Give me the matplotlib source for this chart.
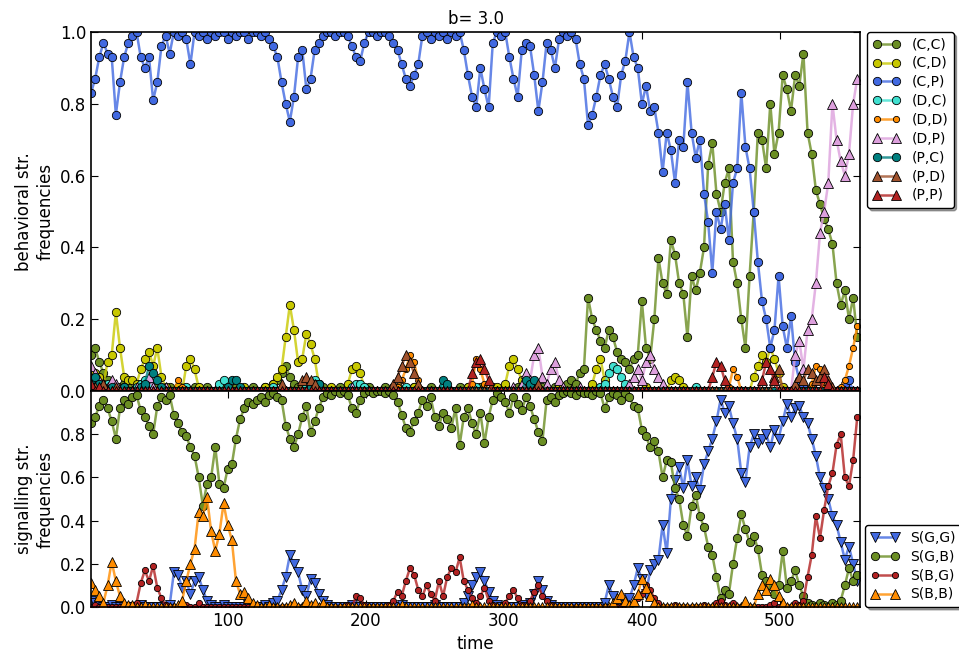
import numpy as np
import matplotlib.pyplot as plt
from matplotlib.colors import to_rgba
from matplotlib.ticker import FormatStrFormatter

# time steps (sampled every 3 steps)
t = np.arange(1, 557, 3)

# behavioral strategy frequencies
cc = [0.10, 0.12, 0.08, 0.05, 0.03, 0.01, 0.00, 0.01, 0.02, 0.01,
      0.00, 0.01, 0.02, 0.00, 0.01, 0.00, 0.01, 0.00, 0.00, 0.01,
      0.00, 0.00, 0.01, 0.00, 0.00, 0.01, 0.00, 0.00, 0.01, 0.00,
      0.00, 0.01, 0.00, 0.00, 0.00, 0.01, 0.00, 0.00, 0.00, 0.01,
      0.00, 0.00, 0.01, 0.00, 0.02, 0.03, 0.05, 0.07, 0.04, 0.02,
      0.01, 0.00, 0.00, 0.01, 0.00, 0.00, 0.01, 0.00, 0.00, 0.00,
      0.01, 0.00, 0.00, 0.01, 0.00, 0.00, 0.00, 0.01, 0.00, 0.00,
      0.00, 0.01, 0.00, 0.00, 0.01, 0.00, 0.00, 0.00, 0.01, 0.00,
      0.00, 0.00, 0.01, 0.00, 0.00, 0.01, 0.00, 0.00, 0.00, 0.01,
      0.00, 0.01, 0.00, 0.00, 0.01, 0.00, 0.00, 0.01, 0.00, 0.00,
      0.01, 0.00, 0.00, 0.01, 0.00, 0.00, 0.01, 0.00, 0.00, 0.01,
      0.00, 0.00, 0.01, 0.00, 0.01, 0.02, 0.03, 0.02, 0.05, 0.06,
      0.26, 0.20, 0.17, 0.14, 0.12, 0.17, 0.15, 0.11, 0.09, 0.08,
      0.06, 0.09, 0.10, 0.25, 0.12, 0.09, 0.20, 0.37, 0.30, 0.27,
      0.42, 0.38, 0.30, 0.27, 0.15, 0.32, 0.28, 0.33, 0.40, 0.63,
      0.69, 0.55, 0.50, 0.58, 0.62, 0.36, 0.30, 0.20, 0.12, 0.32,
      0.50, 0.72, 0.70, 0.62, 0.80, 0.66, 0.72, 0.88, 0.84, 0.78,
      0.88, 0.85, 0.94, 0.72, 0.66, 0.56, 0.52, 0.48, 0.45, 0.41,
      0.30, 0.24, 0.28, 0.20, 0.26, 0.15]
cd = [0.03, 0.05, 0.04, 0.02, 0.08, 0.10, 0.22, 0.12, 0.04, 0.03,
      0.03, 0.02, 0.06, 0.09, 0.11, 0.07, 0.12, 0.04, 0.01, 0.00,
      0.00, 0.01, 0.00, 0.07, 0.09, 0.06, 0.01, 0.00, 0.00, 0.00,
      0.00, 0.00, 0.01, 0.00, 0.00, 0.00, 0.00, 0.01, 0.00, 0.00,
      0.00, 0.00, 0.01, 0.00, 0.02, 0.04, 0.06, 0.15, 0.24, 0.17,
      0.08, 0.09, 0.16, 0.13, 0.09, 0.02, 0.00, 0.00, 0.01, 0.00,
      0.00, 0.00, 0.02, 0.06, 0.07, 0.05, 0.01, 0.00, 0.00, 0.00,
      0.00, 0.00, 0.00, 0.01, 0.00, 0.00, 0.00, 0.00, 0.01, 0.00,
      0.00, 0.00, 0.00, 0.00, 0.00, 0.01, 0.00, 0.00, 0.00, 0.00,
      0.00, 0.01, 0.00, 0.00, 0.00, 0.00, 0.00, 0.00, 0.01, 0.00,
      0.02, 0.07, 0.09, 0.06, 0.03, 0.00, 0.01, 0.00, 0.00, 0.00,
      0.00, 0.00, 0.00, 0.01, 0.00, 0.00, 0.00, 0.00, 0.00, 0.00,
      0.00, 0.02, 0.06, 0.09, 0.03, 0.00, 0.00, 0.00, 0.00, 0.00,
      0.00, 0.00, 0.00, 0.00, 0.01, 0.00, 0.00, 0.00, 0.00, 0.00,
      0.03, 0.04, 0.03, 0.01, 0.00, 0.00, 0.00, 0.00, 0.00, 0.00,
      0.00, 0.00, 0.00, 0.00, 0.00, 0.00, 0.00, 0.00, 0.00, 0.00,
      0.04, 0.07, 0.10, 0.08, 0.12, 0.09, 0.05, 0.01, 0.00, 0.00,
      0.00, 0.00, 0.00, 0.00, 0.00, 0.00, 0.00, 0.00, 0.00, 0.00,
      0.00, 0.00, 0.00, 0.00, 0.00, 0.00]
cp = [0.83, 0.87, 0.93, 0.97, 0.94, 0.93, 0.77, 0.86, 0.93, 0.97,
      0.99, 1.00, 0.93, 0.90, 0.93, 0.81, 0.86, 0.96, 0.99, 0.94,
      1.00, 0.99, 1.00, 0.98, 0.91, 1.00, 0.99, 1.00, 0.98, 1.00,
      0.99, 1.00, 1.00, 0.98, 1.00, 0.99, 1.00, 1.00, 0.98, 1.00,
      1.00, 0.99, 1.00, 0.98, 0.96, 0.93, 0.86, 0.80, 0.75, 0.82,
      0.93, 0.95, 0.84, 0.87, 0.95, 0.97, 0.99, 1.00, 1.00, 0.99,
      1.00, 1.00, 0.99, 0.96, 0.93, 0.92, 0.97, 1.00, 1.00, 0.99,
      1.00, 1.00, 0.99, 0.97, 0.95, 0.91, 0.87, 0.85, 0.88, 0.91,
      0.99, 1.00, 0.98, 1.00, 0.99, 1.00, 0.98, 1.00, 0.99, 1.00,
      0.95, 0.88, 0.82, 0.79, 0.90, 0.84, 0.79, 0.97, 1.00, 0.99,
      1.00, 0.93, 0.87, 0.82, 0.95, 0.97, 0.96, 0.88, 0.78, 0.86,
      0.97, 0.95, 0.90, 0.98, 1.00, 0.99, 1.00, 0.98, 0.91, 0.87,
      0.74, 0.77, 0.82, 0.88, 0.91, 0.87, 0.82, 0.79, 0.88, 0.92,
      1.00, 0.93, 0.90, 0.80, 0.85, 0.78, 0.79, 0.72, 0.61, 0.72,
      0.67, 0.58, 0.70, 0.68, 0.86, 0.72, 0.65, 0.70, 0.55, 0.47,
      0.33, 0.50, 0.45, 0.52, 0.42, 0.58, 0.62, 0.83, 0.68, 0.62,
      0.50, 0.36, 0.25, 0.20, 0.12, 0.17, 0.32, 0.18, 0.12, 0.21,
      0.08, 0.03, 0.01, 0.00, 0.01, 0.00, 0.00, 0.01, 0.00, 0.00,
      0.00, 0.00, 0.02, 0.03, 0.00, 0.00]
dc = [0.02, 0.01, 0.00, 0.01, 0.02, 0.01, 0.00, 0.00, 0.01, 0.00,
      0.00, 0.01, 0.02, 0.03, 0.01, 0.00, 0.00, 0.00, 0.00, 0.00,
      0.00, 0.00, 0.00, 0.01, 0.00, 0.00, 0.00, 0.00, 0.00, 0.00,
      0.00, 0.02, 0.03, 0.01, 0.00, 0.00, 0.00, 0.00, 0.00, 0.00,
      0.00, 0.00, 0.00, 0.00, 0.01, 0.00, 0.00, 0.00, 0.00, 0.00,
      0.00, 0.00, 0.01, 0.02, 0.03, 0.02, 0.00, 0.00, 0.00, 0.00,
      0.00, 0.00, 0.00, 0.01, 0.02, 0.02, 0.01, 0.00, 0.00, 0.00,
      0.00, 0.00, 0.00, 0.00, 0.00, 0.00, 0.01, 0.00, 0.00, 0.00,
      0.00, 0.00, 0.00, 0.00, 0.00, 0.01, 0.00, 0.00, 0.00, 0.00,
      0.00, 0.00, 0.00, 0.01, 0.00, 0.00, 0.00, 0.00, 0.00, 0.00,
      0.00, 0.00, 0.00, 0.00, 0.01, 0.01, 0.00, 0.00, 0.00, 0.00,
      0.00, 0.00, 0.00, 0.00, 0.00, 0.00, 0.00, 0.00, 0.00, 0.00,
      0.00, 0.00, 0.00, 0.01, 0.02, 0.05, 0.07, 0.06, 0.04, 0.02,
      0.00, 0.00, 0.00, 0.00, 0.00, 0.00, 0.00, 0.00, 0.00, 0.00,
      0.00, 0.00, 0.00, 0.00, 0.00, 0.00, 0.01, 0.00, 0.00, 0.00,
      0.00, 0.00, 0.00, 0.00, 0.00, 0.00, 0.00, 0.00, 0.00, 0.00,
      0.00, 0.00, 0.00, 0.00, 0.00, 0.00, 0.00, 0.00, 0.00, 0.00,
      0.00, 0.00, 0.00, 0.00, 0.00, 0.00, 0.00, 0.00, 0.00, 0.00,
      0.00, 0.00, 0.00, 0.00, 0.00, 0.00]
dd = [0.00, 0.00, 0.00, 0.00, 0.00, 0.00, 0.00, 0.00, 0.00, 0.00,
      0.00, 0.00, 0.00, 0.00, 0.00, 0.00, 0.00, 0.00, 0.00, 0.00,
      0.00, 0.03, 0.01, 0.00, 0.00, 0.00, 0.00, 0.00, 0.00, 0.00,
      0.00, 0.00, 0.00, 0.00, 0.00, 0.00, 0.00, 0.00, 0.00, 0.00,
      0.00, 0.00, 0.00, 0.00, 0.00, 0.00, 0.00, 0.00, 0.00, 0.00,
      0.00, 0.00, 0.00, 0.00, 0.00, 0.00, 0.00, 0.00, 0.00, 0.00,
      0.00, 0.00, 0.00, 0.00, 0.00, 0.00, 0.00, 0.00, 0.00, 0.00,
      0.00, 0.00, 0.00, 0.00, 0.01, 0.03, 0.06, 0.10, 0.08, 0.03,
      0.00, 0.00, 0.00, 0.00, 0.00, 0.00, 0.00, 0.00, 0.00, 0.00,
      0.00, 0.00, 0.02, 0.09, 0.06, 0.02, 0.00, 0.00, 0.00, 0.00,
      0.00, 0.00, 0.00, 0.00, 0.00, 0.00, 0.00, 0.00, 0.00, 0.00,
      0.00, 0.00, 0.00, 0.00, 0.00, 0.00, 0.00, 0.00, 0.00, 0.00,
      0.00, 0.00, 0.00, 0.00, 0.00, 0.00, 0.00, 0.00, 0.00, 0.00,
      0.00, 0.00, 0.00, 0.00, 0.00, 0.00, 0.00, 0.00, 0.00, 0.00,
      0.00, 0.00, 0.00, 0.00, 0.00, 0.00, 0.00, 0.00, 0.00, 0.00,
      0.00, 0.00, 0.00, 0.00, 0.01, 0.06, 0.04, 0.00, 0.00, 0.00,
      0.00, 0.00, 0.00, 0.00, 0.00, 0.00, 0.00, 0.00, 0.00, 0.00,
      0.00, 0.00, 0.00, 0.00, 0.02, 0.07, 0.06, 0.02, 0.00, 0.00,
      0.00, 0.01, 0.03, 0.07, 0.12, 0.18]
dp = [0.07, 0.05, 0.03, 0.02, 0.01, 0.03, 0.02, 0.00, 0.01, 0.00,
      0.00, 0.01, 0.00, 0.02, 0.04, 0.01, 0.00, 0.00, 0.01, 0.00,
      0.00, 0.00, 0.00, 0.00, 0.00, 0.00, 0.00, 0.00, 0.00, 0.00,
      0.00, 0.00, 0.00, 0.00, 0.00, 0.00, 0.00, 0.00, 0.00, 0.00,
      0.00, 0.00, 0.00, 0.00, 0.00, 0.00, 0.00, 0.00, 0.00, 0.00,
      0.00, 0.00, 0.00, 0.00, 0.00, 0.00, 0.00, 0.00, 0.00, 0.00,
      0.00, 0.00, 0.00, 0.01, 0.00, 0.00, 0.00, 0.00, 0.00, 0.00,
      0.00, 0.00, 0.00, 0.00, 0.00, 0.00, 0.00, 0.00, 0.00, 0.00,
      0.00, 0.00, 0.00, 0.00, 0.00, 0.00, 0.00, 0.00, 0.00, 0.00,
      0.00, 0.00, 0.00, 0.00, 0.00, 0.00, 0.00, 0.00, 0.00, 0.00,
      0.00, 0.00, 0.01, 0.00, 0.02, 0.05, 0.03, 0.10, 0.12, 0.04,
      0.02, 0.06, 0.08, 0.03, 0.01, 0.00, 0.00, 0.00, 0.01, 0.00,
      0.00, 0.00, 0.00, 0.00, 0.00, 0.00, 0.00, 0.00, 0.00, 0.00,
      0.02, 0.04, 0.06, 0.03, 0.08, 0.10, 0.06, 0.04, 0.02, 0.00,
      0.00, 0.00, 0.00, 0.00, 0.00, 0.00, 0.00, 0.00, 0.00, 0.00,
      0.00, 0.00, 0.00, 0.00, 0.00, 0.00, 0.00, 0.00, 0.00, 0.00,
      0.00, 0.00, 0.00, 0.00, 0.00, 0.00, 0.00, 0.00, 0.00, 0.00,
      0.10, 0.14, 0.06, 0.17, 0.20, 0.30, 0.44, 0.50, 0.58, 0.80,
      0.70, 0.64, 0.60, 0.66, 0.80, 0.87]
pc = [0.03, 0.04, 0.02, 0.01, 0.00, 0.01, 0.00, 0.00, 0.01, 0.00,
      0.00, 0.00, 0.01, 0.02, 0.07, 0.05, 0.03, 0.01, 0.00, 0.00,
      0.00, 0.00, 0.00, 0.00, 0.00, 0.00, 0.00, 0.00, 0.00, 0.00,
      0.00, 0.00, 0.00, 0.01, 0.03, 0.03, 0.01, 0.00, 0.00, 0.00,
      0.00, 0.00, 0.00, 0.00, 0.00, 0.00, 0.00, 0.00, 0.00, 0.00,
      0.00, 0.00, 0.00, 0.01, 0.02, 0.02, 0.00, 0.00, 0.00, 0.00,
      0.00, 0.00, 0.00, 0.00, 0.00, 0.00, 0.00, 0.00, 0.00, 0.00,
      0.00, 0.00, 0.00, 0.00, 0.00, 0.00, 0.00, 0.00, 0.00, 0.00,
      0.00, 0.00, 0.00, 0.00, 0.00, 0.03, 0.02, 0.00, 0.00, 0.00,
      0.00, 0.00, 0.00, 0.00, 0.00, 0.00, 0.00, 0.00, 0.00, 0.00,
      0.00, 0.00, 0.00, 0.00, 0.00, 0.03, 0.02, 0.03, 0.00, 0.00,
      0.00, 0.00, 0.00, 0.00, 0.00, 0.00, 0.00, 0.00, 0.00, 0.00,
      0.00, 0.00, 0.00, 0.00, 0.00, 0.00, 0.00, 0.00, 0.00, 0.00,
      0.00, 0.00, 0.00, 0.00, 0.00, 0.00, 0.00, 0.00, 0.00, 0.00,
      0.00, 0.00, 0.00, 0.00, 0.00, 0.00, 0.00, 0.00, 0.00, 0.00,
      0.00, 0.00, 0.00, 0.00, 0.00, 0.00, 0.00, 0.00, 0.00, 0.00,
      0.00, 0.00, 0.00, 0.00, 0.00, 0.00, 0.00, 0.00, 0.00, 0.00,
      0.00, 0.00, 0.00, 0.00, 0.00, 0.00, 0.00, 0.00, 0.00, 0.00,
      0.00, 0.00, 0.00, 0.00, 0.00, 0.00]
pd_ = [0.00, 0.01, 0.00, 0.02, 0.00, 0.00, 0.01, 0.00, 0.00, 0.00,
       0.00, 0.00, 0.00, 0.00, 0.00, 0.00, 0.00, 0.00, 0.00, 0.00,
       0.00, 0.00, 0.00, 0.00, 0.00, 0.00, 0.00, 0.00, 0.00, 0.00,
       0.00, 0.00, 0.00, 0.00, 0.00, 0.00, 0.00, 0.00, 0.00, 0.00,
       0.00, 0.00, 0.00, 0.00, 0.00, 0.00, 0.02, 0.00, 0.00, 0.00,
       0.00, 0.03, 0.04, 0.03, 0.02, 0.00, 0.00, 0.00, 0.00, 0.00,
       0.00, 0.00, 0.00, 0.00, 0.00, 0.00, 0.00, 0.00, 0.00, 0.00,
       0.00, 0.00, 0.00, 0.02, 0.04, 0.07, 0.10, 0.08, 0.05, 0.02,
       0.00, 0.00, 0.00, 0.00, 0.00, 0.00, 0.00, 0.00, 0.00, 0.00,
       0.00, 0.00, 0.00, 0.00, 0.00, 0.00, 0.00, 0.00, 0.00, 0.00,
       0.00, 0.00, 0.00, 0.00, 0.00, 0.00, 0.00, 0.00, 0.02, 0.00,
       0.00, 0.00, 0.00, 0.00, 0.00, 0.00, 0.00, 0.00, 0.00, 0.00,
       0.00, 0.00, 0.00, 0.00, 0.00, 0.00, 0.00, 0.00, 0.00, 0.00,
       0.00, 0.00, 0.00, 0.00, 0.00, 0.00, 0.00, 0.00, 0.00, 0.00,
       0.00, 0.00, 0.00, 0.00, 0.00, 0.00, 0.00, 0.00, 0.00, 0.00,
       0.00, 0.00, 0.00, 0.00, 0.00, 0.00, 0.00, 0.00, 0.00, 0.00,
       0.00, 0.00, 0.00, 0.00, 0.00, 0.04, 0.06, 0.00, 0.00, 0.00,
       0.02, 0.04, 0.03, 0.06, 0.05, 0.03, 0.04, 0.06, 0.03, 0.01,
       0.00, 0.00, 0.00, 0.00, 0.00, 0.00]
pp = [0.02, 0.00, 0.01, 0.00, 0.00, 0.00, 0.00, 0.00, 0.00, 0.00,
      0.00, 0.00, 0.00, 0.00, 0.00, 0.00, 0.00, 0.00, 0.00, 0.00,
      0.00, 0.00, 0.00, 0.00, 0.00, 0.00, 0.00, 0.00, 0.00, 0.00,
      0.00, 0.00, 0.00, 0.00, 0.00, 0.00, 0.00, 0.00, 0.00, 0.00,
      0.00, 0.00, 0.00, 0.00, 0.00, 0.00, 0.00, 0.00, 0.00, 0.00,
      0.00, 0.00, 0.00, 0.00, 0.00, 0.00, 0.00, 0.00, 0.00, 0.00,
      0.00, 0.00, 0.00, 0.00, 0.00, 0.00, 0.00, 0.00, 0.00, 0.00,
      0.00, 0.00, 0.00, 0.00, 0.00, 0.00, 0.00, 0.00, 0.00, 0.00,
      0.00, 0.00, 0.00, 0.00, 0.00, 0.00, 0.00, 0.00, 0.00, 0.00,
      0.00, 0.00, 0.05, 0.08, 0.09, 0.06, 0.03, 0.00, 0.00, 0.00,
      0.00, 0.00, 0.00, 0.00, 0.00, 0.00, 0.00, 0.00, 0.00, 0.00,
      0.00, 0.00, 0.00, 0.00, 0.00, 0.00, 0.00, 0.00, 0.00, 0.00,
      0.00, 0.00, 0.00, 0.00, 0.00, 0.00, 0.00, 0.00, 0.00, 0.00,
      0.00, 0.00, 0.00, 0.00, 0.00, 0.00, 0.00, 0.00, 0.00, 0.00,
      0.00, 0.00, 0.00, 0.00, 0.00, 0.00, 0.00, 0.00, 0.00, 0.00,
      0.04, 0.08, 0.07, 0.03, 0.00, 0.00, 0.00, 0.00, 0.00, 0.00,
      0.00, 0.00, 0.03, 0.08, 0.06, 0.03, 0.00, 0.00, 0.00, 0.00,
      0.00, 0.00, 0.00, 0.00, 0.00, 0.00, 0.00, 0.04, 0.02, 0.00,
      0.00, 0.00, 0.00, 0.00, 0.00, 0.00]

# signalling strategy frequencies
sgg = [0.03, 0.02, 0.01, 0.00, 0.00, 0.01, 0.00, 0.00, 0.00, 0.00,
       0.00, 0.00, 0.01, 0.00, 0.00, 0.00, 0.00, 0.00, 0.00, 0.01,
       0.16, 0.15, 0.09, 0.12, 0.06, 0.12, 0.14, 0.08, 0.03, 0.01,
       0.00, 0.00, 0.01, 0.00, 0.00, 0.00, 0.00, 0.00, 0.01, 0.00,
       0.00, 0.00, 0.01, 0.00, 0.02, 0.03, 0.08, 0.14, 0.24, 0.20,
       0.16, 0.08, 0.05, 0.13, 0.11, 0.06, 0.03, 0.01, 0.00, 0.00,
       0.00, 0.00, 0.00, 0.01, 0.00, 0.00, 0.00, 0.00, 0.00, 0.00,
       0.00, 0.00, 0.00, 0.00, 0.00, 0.01, 0.00, 0.00, 0.00, 0.00,
       0.00, 0.00, 0.00, 0.01, 0.00, 0.00, 0.00, 0.00, 0.00, 0.00,
       0.02, 0.05, 0.10, 0.14, 0.16, 0.12, 0.07, 0.03, 0.01, 0.00,
       0.00, 0.00, 0.00, 0.00, 0.01, 0.00, 0.02, 0.06, 0.12, 0.08,
       0.03, 0.01, 0.00, 0.00, 0.00, 0.00, 0.00, 0.00, 0.00, 0.00,
       0.00, 0.00, 0.00, 0.00, 0.02, 0.10, 0.05, 0.01, 0.00, 0.01,
       0.04, 0.10, 0.18, 0.13, 0.06, 0.17, 0.20, 0.22, 0.38, 0.25,
       0.50, 0.59, 0.65, 0.55, 0.68, 0.56, 0.60, 0.54, 0.66, 0.72,
       0.78, 0.86, 0.96, 0.90, 0.93, 0.85, 0.78, 0.62, 0.58, 0.74,
       0.80, 0.76, 0.78, 0.80, 0.74, 0.82, 0.78, 0.86, 0.94, 0.88,
       0.92, 0.93, 0.88, 0.85, 0.78, 0.70, 0.60, 0.55, 0.50, 0.42,
       0.38, 0.30, 0.22, 0.28, 0.20, 0.12]
sgb = [0.85, 0.88, 0.93, 0.96, 0.92, 0.86, 0.78, 0.92, 0.96, 0.94,
       0.97, 0.98, 0.91, 0.88, 0.84, 0.80, 0.93, 0.97, 0.96, 0.98,
       0.89, 0.85, 0.81, 0.79, 0.74, 0.70, 0.60, 0.47, 0.57, 0.60,
       0.74, 0.57, 0.55, 0.64, 0.66, 0.78, 0.87, 0.92, 0.95, 0.94,
       0.96, 0.97, 0.95, 0.98, 0.99, 0.97, 0.96, 0.84, 0.78, 0.74,
       0.80, 0.88, 0.93, 0.81, 0.86, 0.92, 0.97, 0.99, 0.98, 1.00,
       0.99, 1.00, 0.98, 0.92, 0.90, 0.96, 0.99, 1.00, 0.99, 1.00,
       1.00, 0.99, 1.00, 0.98, 0.95, 0.89, 0.83, 0.81, 0.86, 0.90,
       0.96, 0.93, 0.97, 0.88, 0.84, 0.90, 0.87, 0.83, 0.92, 0.75,
       0.88, 0.92, 0.85, 0.80, 0.90, 0.76, 0.88, 0.96, 0.99, 0.97,
       0.95, 0.90, 0.97, 0.94, 0.91, 0.97, 0.93, 0.87, 0.81, 0.77,
       0.96, 0.97, 0.95, 0.98, 0.99, 1.00, 0.99, 0.98, 1.00, 0.99,
       0.99, 0.98, 1.00, 0.99, 0.92, 0.97, 0.99, 0.98, 0.96, 0.99,
       0.97, 0.93, 0.92, 0.82, 0.79, 0.74, 0.77, 0.72, 0.60, 0.68,
       0.67, 0.55, 0.50, 0.38, 0.33, 0.47, 0.52, 0.42, 0.37, 0.28,
       0.24, 0.14, 0.04, 0.08, 0.06, 0.20, 0.32, 0.43, 0.36, 0.30,
       0.33, 0.27, 0.15, 0.12, 0.10, 0.06, 0.10, 0.26, 0.09, 0.12,
       0.17, 0.10, 0.05, 0.02, 0.01, 0.00, 0.02, 0.01, 0.00, 0.02,
       0.01, 0.03, 0.10, 0.18, 0.12, 0.15]
sbg = [0.00, 0.01, 0.00, 0.00, 0.00, 0.00, 0.00, 0.00, 0.00, 0.00,
       0.00, 0.02, 0.11, 0.17, 0.12, 0.19, 0.09, 0.04, 0.01, 0.00,
       0.00, 0.00, 0.00, 0.01, 0.00, 0.00, 0.02, 0.00, 0.00, 0.00,
       0.00, 0.00, 0.00, 0.00, 0.00, 0.00, 0.00, 0.00, 0.00, 0.00,
       0.00, 0.00, 0.00, 0.00, 0.00, 0.00, 0.00, 0.00, 0.00, 0.00,
       0.00, 0.00, 0.00, 0.00, 0.00, 0.00, 0.00, 0.00, 0.00, 0.00,
       0.00, 0.00, 0.01, 0.00, 0.05, 0.04, 0.01, 0.00, 0.00, 0.00,
       0.00, 0.00, 0.01, 0.03, 0.07, 0.05, 0.12, 0.18, 0.15, 0.08,
       0.05, 0.10, 0.06, 0.03, 0.12, 0.05, 0.14, 0.18, 0.16, 0.23,
       0.12, 0.08, 0.04, 0.02, 0.05, 0.09, 0.03, 0.01, 0.00, 0.00,
       0.02, 0.05, 0.08, 0.04, 0.01, 0.00, 0.03, 0.07, 0.10, 0.05,
       0.03, 0.01, 0.00, 0.00, 0.00, 0.00, 0.00, 0.00, 0.00, 0.00,
       0.00, 0.00, 0.00, 0.00, 0.00, 0.00, 0.00, 0.00, 0.00, 0.00,
       0.00, 0.02, 0.04, 0.06, 0.10, 0.08, 0.04, 0.02, 0.00, 0.00,
       0.00, 0.01, 0.00, 0.00, 0.00, 0.00, 0.00, 0.00, 0.01, 0.00,
       0.00, 0.02, 0.03, 0.01, 0.00, 0.02, 0.00, 0.00, 0.00, 0.00,
       0.00, 0.00, 0.00, 0.00, 0.01, 0.02, 0.00, 0.00, 0.00, 0.00,
       0.02, 0.01, 0.03, 0.14, 0.24, 0.42, 0.32, 0.45, 0.56, 0.62,
       0.75, 0.80, 0.60, 0.56, 0.68, 0.88]
sbb = [0.11, 0.08, 0.05, 0.02, 0.10, 0.21, 0.12, 0.05, 0.02, 0.01,
       0.01, 0.00, 0.00, 0.01, 0.00, 0.00, 0.00, 0.00, 0.00, 0.00,
       0.00, 0.01, 0.03, 0.12, 0.20, 0.27, 0.44, 0.42, 0.51, 0.35,
       0.26, 0.34, 0.48, 0.38, 0.31, 0.12, 0.06, 0.07, 0.04, 0.02,
       0.01, 0.00, 0.00, 0.01, 0.00, 0.00, 0.00, 0.00, 0.01, 0.02,
       0.00, 0.00, 0.03, 0.01, 0.02, 0.00, 0.02, 0.00, 0.00, 0.00,
       0.00, 0.00, 0.00, 0.00, 0.00, 0.00, 0.00, 0.00, 0.00, 0.00,
       0.00, 0.00, 0.00, 0.00, 0.00, 0.01, 0.00, 0.00, 0.00, 0.00,
       0.00, 0.00, 0.00, 0.00, 0.00, 0.00, 0.00, 0.00, 0.00, 0.00,
       0.00, 0.00, 0.01, 0.00, 0.00, 0.00, 0.00, 0.00, 0.00, 0.00,
       0.00, 0.00, 0.00, 0.00, 0.00, 0.00, 0.00, 0.00, 0.00, 0.00,
       0.00, 0.00, 0.00, 0.00, 0.00, 0.00, 0.00, 0.00, 0.00, 0.00,
       0.00, 0.00, 0.00, 0.00, 0.00, 0.00, 0.02, 0.04, 0.06, 0.03,
       0.01, 0.03, 0.06, 0.13, 0.09, 0.05, 0.02, 0.00, 0.00, 0.00,
       0.00, 0.00, 0.00, 0.00, 0.00, 0.00, 0.00, 0.00, 0.00, 0.00,
       0.00, 0.00, 0.00, 0.00, 0.00, 0.00, 0.00, 0.00, 0.03, 0.00,
       0.00, 0.06, 0.10, 0.08, 0.13, 0.10, 0.05, 0.02, 0.00, 0.00,
       0.00, 0.00, 0.00, 0.00, 0.00, 0.00, 0.00, 0.00, 0.00, 0.00,
       0.00, 0.00, 0.00, 0.00, 0.00, 0.00]

behav = [("(C,C)", cc, "olivedrab", "o", 6),
         ("(C,D)", cd, "#c8c800", "o", 6),
         ("(C,P)", cp, "royalblue", "o", 6),
         ("(D,C)", dc, "turquoise", "o", 6),
         ("(D,D)", dd, "darkorange", "o", 4.5),
         ("(D,P)", dp, "plum", "^", 7),
         ("(P,C)", pc, "teal", "o", 6),
         ("(P,D)", pd_, "sienna", "^", 7),
         ("(P,P)", pp, "firebrick", "^", 7)]
signal = [("S(G,G)", sgg, "royalblue", "v", 7),
          ("S(G,B)", sgb, "olivedrab", "o", 6),
          ("S(B,G)", sbg, "firebrick", "o", 4.5),
          ("S(B,B)", sbb, "darkorange", "^", 7)]

fig = plt.figure(figsize=(9.59, 6.53), dpi=100)
ax1 = fig.add_axes([0.0949, 0.4012, 0.8019, 0.5498])
ax2 = fig.add_axes([0.0949, 0.0704, 0.8019, 0.3308], sharex=ax1)

def draw(ax, series):
    for name, y, c, m, ms in series:
        ax.plot(t, y, color=to_rgba(c, 0.8), lw=1.8, marker=m, ms=ms,
                mfc=c, mec="black", mew=0.6, label=name)

draw(ax1, behav)
draw(ax2, signal)

for ax in (ax1, ax2):
    ax.set_xlim(1, 558)
    ax.set_ylim(0, 1)
    ax.tick_params(direction="in", top=True, right=True, length=5,
                   labelsize=12)
    ax.yaxis.set_major_formatter(FormatStrFormatter("%.1f"))
    for s in ax.spines.values():
        s.set_linewidth(1.2)

ax1.set_yticks([0, 0.2, 0.4, 0.6, 0.8, 1.0])
ax2.set_yticks([0, 0.2, 0.4, 0.6, 0.8])
ax2.set_xticks([100, 200, 300, 400, 500])
ax1.tick_params(labelbottom=False)

ax1.set_title("b= 3.0", fontsize=12)
ax1.set_ylabel("behavioral str.\nfrequencies", fontsize=12)
ax2.set_ylabel("signalling str.\nfrequencies", fontsize=12)
ax2.set_xlabel("time", fontsize=12)

ax1.legend(loc="upper left", bbox_to_anchor=(1.009, 1.0), borderaxespad=0,
           numpoints=2, fontsize=10, labelspacing=0.35, fancybox=True,
           shadow=True, framealpha=1, edgecolor="black")
ax2.legend(loc="lower left", bbox_to_anchor=(1.007, 0.0), borderaxespad=0,
           numpoints=2, fontsize=10, labelspacing=0.35, fancybox=True,
           shadow=True, framealpha=1, edgecolor="black")

fig.savefig("out.png", dpi=100)
